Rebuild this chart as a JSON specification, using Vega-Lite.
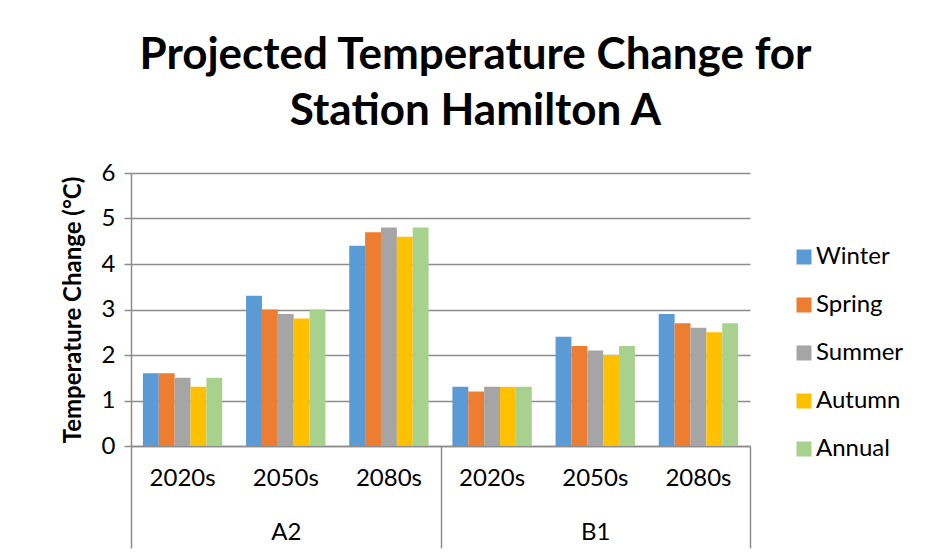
{
  "$schema": "https://vega.github.io/schema/vega-lite/v6.json",
  "autosize": "none",
  "width": 619,
  "height": 273,
  "padding": {"left": 131, "top": 173, "right": 177, "bottom": 114},
  "background": "white",
  "config": {
    "font": "Lato",
    "view": {"stroke": null},
    "axis": {"labelFont": "Lato", "titleFont": "Lato", "labelColor": "#000000", "titleColor": "#000000"}
  },
  "title": {
    "text": ["Projected Temperature Change for", "Station Hamilton A"],
    "font": "Lato",
    "fontSize": 44,
    "fontWeight": "bold",
    "color": "#000000",
    "lineHeight": 56,
    "anchor": "middle",
    "frame": "group",
    "dx": 35,
    "offset": 27
  },
  "data": {
    "values": [
      {"group": "A2 2020s", "scenario": "A2", "season": "Winter", "value": 1.6},
      {"group": "A2 2020s", "scenario": "A2", "season": "Spring", "value": 1.6},
      {"group": "A2 2020s", "scenario": "A2", "season": "Summer", "value": 1.5},
      {"group": "A2 2020s", "scenario": "A2", "season": "Autumn", "value": 1.3},
      {"group": "A2 2020s", "scenario": "A2", "season": "Annual", "value": 1.5},
      {"group": "A2 2050s", "scenario": "A2", "season": "Winter", "value": 3.3},
      {"group": "A2 2050s", "scenario": "A2", "season": "Spring", "value": 3.0},
      {"group": "A2 2050s", "scenario": "A2", "season": "Summer", "value": 2.9},
      {"group": "A2 2050s", "scenario": "A2", "season": "Autumn", "value": 2.8},
      {"group": "A2 2050s", "scenario": "A2", "season": "Annual", "value": 3.0},
      {"group": "A2 2080s", "scenario": "A2", "season": "Winter", "value": 4.4},
      {"group": "A2 2080s", "scenario": "A2", "season": "Spring", "value": 4.7},
      {"group": "A2 2080s", "scenario": "A2", "season": "Summer", "value": 4.8},
      {"group": "A2 2080s", "scenario": "A2", "season": "Autumn", "value": 4.6},
      {"group": "A2 2080s", "scenario": "A2", "season": "Annual", "value": 4.8},
      {"group": "B1 2020s", "scenario": "B1", "season": "Winter", "value": 1.3},
      {"group": "B1 2020s", "scenario": "B1", "season": "Spring", "value": 1.2},
      {"group": "B1 2020s", "scenario": "B1", "season": "Summer", "value": 1.3},
      {"group": "B1 2020s", "scenario": "B1", "season": "Autumn", "value": 1.3},
      {"group": "B1 2020s", "scenario": "B1", "season": "Annual", "value": 1.3},
      {"group": "B1 2050s", "scenario": "B1", "season": "Winter", "value": 2.4},
      {"group": "B1 2050s", "scenario": "B1", "season": "Spring", "value": 2.2},
      {"group": "B1 2050s", "scenario": "B1", "season": "Summer", "value": 2.1},
      {"group": "B1 2050s", "scenario": "B1", "season": "Autumn", "value": 2.0},
      {"group": "B1 2050s", "scenario": "B1", "season": "Annual", "value": 2.2},
      {"group": "B1 2080s", "scenario": "B1", "season": "Winter", "value": 2.9},
      {"group": "B1 2080s", "scenario": "B1", "season": "Spring", "value": 2.7},
      {"group": "B1 2080s", "scenario": "B1", "season": "Summer", "value": 2.6},
      {"group": "B1 2080s", "scenario": "B1", "season": "Autumn", "value": 2.5},
      {"group": "B1 2080s", "scenario": "B1", "season": "Annual", "value": 2.7}
    ]
  },
  "layer": [
    {
      "mark": {"type": "bar"},
      "encoding": {
        "x": {
          "field": "group",
          "type": "nominal",
          "scale": {"paddingInner": 0, "paddingOuter": 0},
          "axis": {
            "orient": "bottom",
            "title": null,
            "labelAngle": 0,
            "labelExpr": "split(datum.label, ' ')[1]",
            "labelFontSize": 24,
            "labelPadding": 20,
            "ticks": false,
            "domain": true,
            "domainColor": "#8c8c8c",
            "domainWidth": 1.5,
            "grid": false
          }
        },
        "xOffset": {
          "field": "season",
          "type": "nominal",
          "sort": ["Winter", "Spring", "Summer", "Autumn", "Annual"],
          "scale": {"paddingInner": 0, "paddingOuter": 0.75}
        },
        "y": {
          "field": "value",
          "type": "quantitative",
          "scale": {"domain": [0, 6], "nice": false},
          "axis": {
            "title": "Temperature Change (°C)",
            "titleFontSize": 24,
            "titleFontWeight": "bold",
            "titlePadding": 16,
            "values": [0, 1, 2, 3, 4, 5, 6],
            "labelFontSize": 24,
            "labelPadding": 9,
            "tickSize": 7,
            "tickColor": "#8c8c8c",
            "tickWidth": 1.5,
            "domainColor": "#8c8c8c",
            "domainWidth": 1.5,
            "grid": true,
            "gridColor": "#8c8c8c",
            "gridWidth": 1.5
          }
        },
        "color": {
          "field": "season",
          "type": "nominal",
          "sort": ["Winter", "Spring", "Summer", "Autumn", "Annual"],
          "scale": {
            "domain": ["Winter", "Spring", "Summer", "Autumn", "Annual"],
            "range": ["#5B9BD5", "#ED7D31", "#A5A5A5", "#FFC000", "#A9D18E"]
          },
          "legend": {
            "title": null,
            "orient": "none",
            "legendX": 661,
            "legendY": 72,
            "padding": 0,
            "symbolType": "square",
            "symbolSize": 225,
            "symbolStrokeWidth": 0,
            "labelFont": "Lato",
            "labelFontSize": 24,
            "labelColor": "#000000",
            "labelOffset": 0,
            "rowPadding": 24
          }
        }
      }
    },
    {
      "mark": {"type": "point", "opacity": 0},
      "encoding": {
        "x": {
          "field": "scenario",
          "type": "nominal",
          "scale": {"paddingInner": 0, "paddingOuter": 0},
          "axis": {
            "orient": "bottom",
            "title": null,
            "labelAngle": 0,
            "labelFontSize": 24,
            "labelPadding": -28,
            "domain": false,
            "ticks": true,
            "tickBand": "extent",
            "tickSize": 102,
            "tickColor": "#8c8c8c",
            "tickWidth": 1.5,
            "grid": false
          }
        },
        "y": {"field": "value", "type": "quantitative"}
      }
    }
  ],
  "resolve": {"scale": {"x": "independent"}, "axis": {"x": "independent"}}
}
